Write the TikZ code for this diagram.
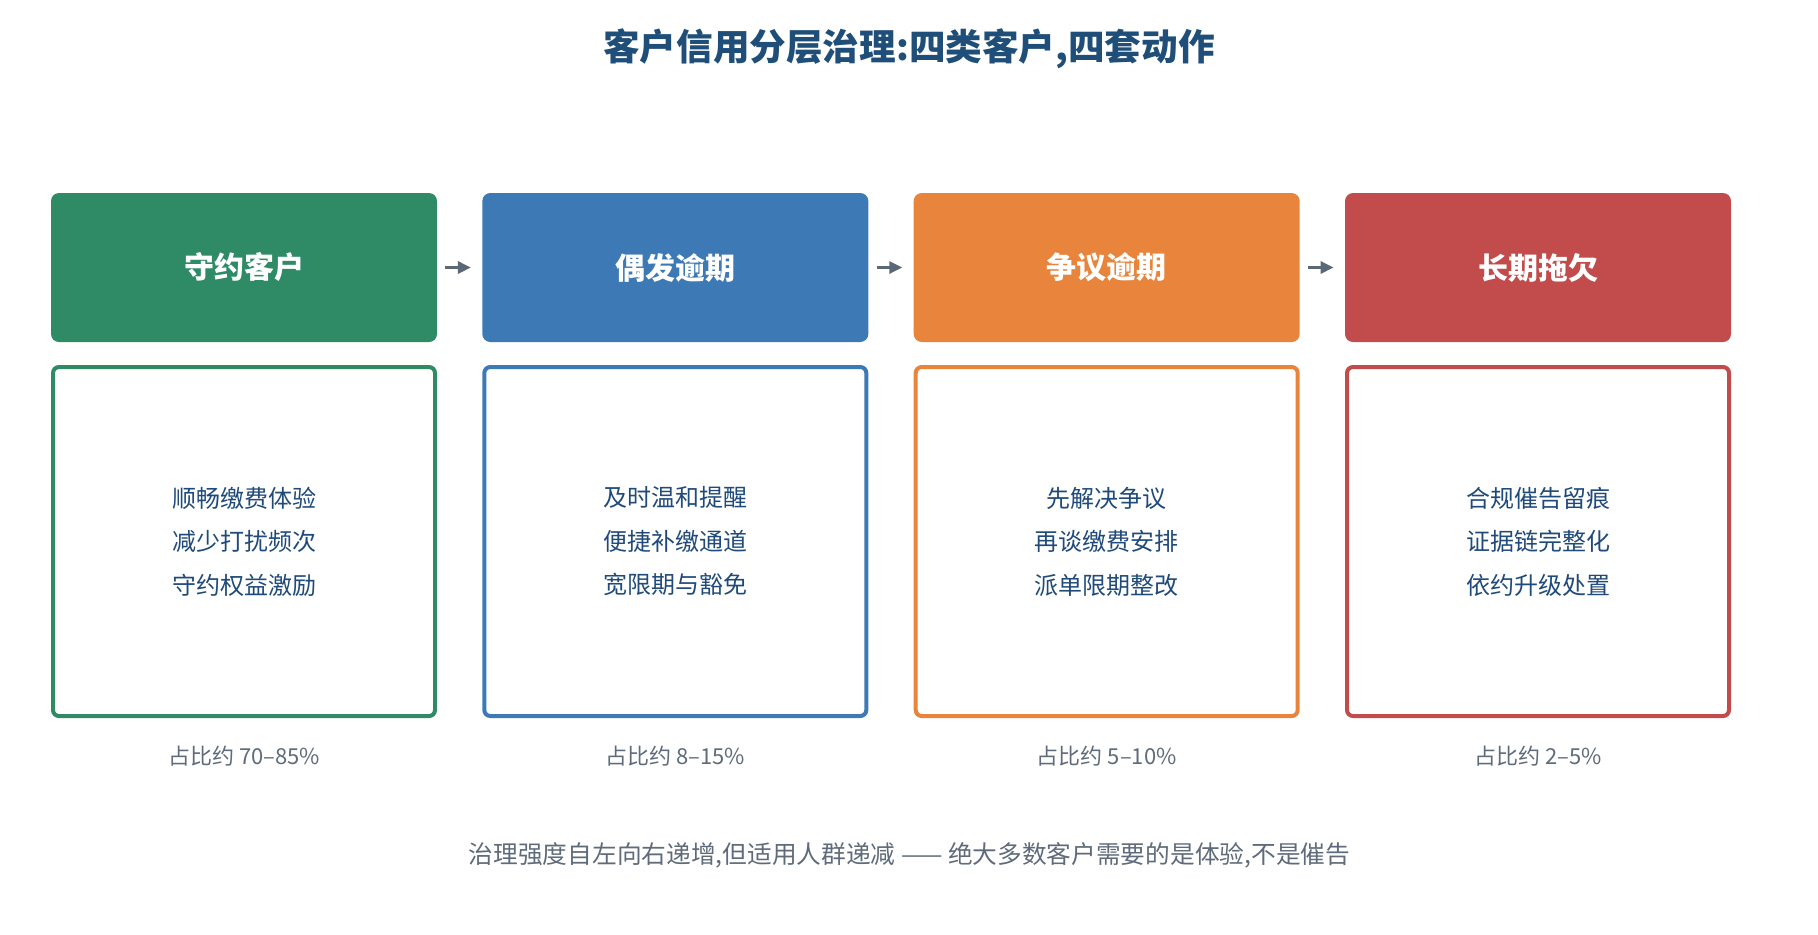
\documentclass[tikz,border=0pt]{standalone}
\usepackage{fontspec}
\setmainfont{Noto Sans CJK SC}
\usetikzlibrary{arrows.meta}
\definecolor{cgreen}{HTML}{2E8B66}
\definecolor{cblue}{HTML}{3D79B5}
\definecolor{corange}{HTML}{E8843B}
\definecolor{cred}{HTML}{C24B4C}
\definecolor{ctitle}{HTML}{1F4E79}
\definecolor{cbody}{HTML}{1F4A7A}
\definecolor{cgray}{HTML}{5F6B7A}
\definecolor{carrow}{HTML}{5A6878}
\tikzset{
  hdr/.style={fill=#1, draw=none, rounded corners=4pt, minimum width=193pt, minimum height=74.5pt, inner sep=0pt,
    text=white, font=\fontsize{15}{18}\selectfont\bfseries},
  bodybox/.style={draw=#1, line width=2pt, fill=white, rounded corners=3pt, minimum width=191pt, minimum height=174.5pt,
    inner sep=0pt, align=center, text=cbody, font=\fontsize{12}{21.75}\selectfont},
  share/.style={text=cgray, font=\fontsize{11}{13}\selectfont, inner sep=0pt},
  flow/.style={draw=carrow, line width=1.5pt, -{Triangle[length=6.5pt,width=6pt]}},
}
\begin{document}
\begin{tikzpicture}[x=0.5pt, y=-0.5pt]
\useasboundingbox (0,0) rectangle (1818,934);
\node[text=ctitle, font=\fontsize{18.3}{22}\selectfont\bfseries, inner sep=0pt] (title) at (909,48.5) {客户信用分层治理:四类客户,四套动作};

\node[hdr=cgreen]  (h1) at (244,267.5)  {守约客户};
\node[hdr=cblue]   (h2) at (675.3,267.5) {偶发逾期};
\node[hdr=corange] (h3) at (1106.7,267.5) {争议逾期};
\node[hdr=cred]    (h4) at (1538,267.5) {长期拖欠};

\node[bodybox=cgreen]  (b1) at (244,541.5)  {顺畅缴费体验\\减少打扰频次\\守约权益激励};
\node[bodybox=cblue]   (b2) at (675.3,541.5) {及时温和提醒\\便捷补缴通道\\宽限期与豁免};
\node[bodybox=corange] (b3) at (1106.7,541.5) {先解决争议\\再谈缴费安排\\派单限期整改};
\node[bodybox=cred]    (b4) at (1538,541.5) {合规催告留痕\\证据链完整化\\依约升级处置};

\node[share] (s1) at (244,756)  {占比约 70–85\%};
\node[share] (s2) at (675.3,756) {占比约 8–15\%};
\node[share] (s3) at (1106.7,756) {占比约 5–10\%};
\node[share] (s4) at (1538,756) {占比约 2–5\%};

\draw[flow] ([xshift=4pt]h1.east) -- ([xshift=-5.5pt]h2.west);
\draw[flow] ([xshift=4pt]h2.east) -- ([xshift=-5.5pt]h3.west);
\draw[flow] ([xshift=4pt]h3.east) -- ([xshift=-5.5pt]h4.west);

\node[text=cgray, font=\fontsize{12.35}{14}\selectfont, inner sep=0pt] (note) at (909.5,855) {治理强度自左向右递增,但适用人群递减 —— 绝大多数客户需要的是体验,不是催告};
\end{tikzpicture}
\end{document}
